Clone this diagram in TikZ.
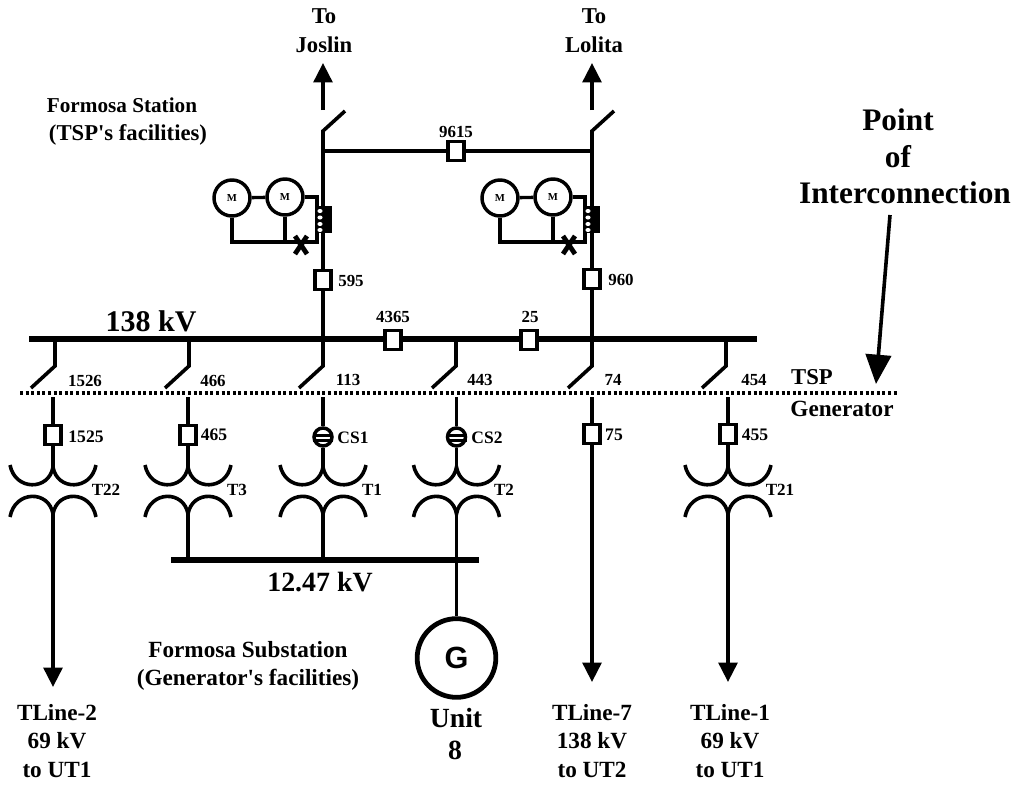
\documentclass[tikz,border=0pt]{standalone}
\usepackage{fontspec}
\setmainfont{Liberation Serif}[Ligatures=TeXOff]
\newfontfamily\gfont{Liberation Sans}
\usetikzlibrary{arrows.meta}
\newcommand{\lbl}[3]{\node[font=\fontsize{#1}{#1}\selectfont\bfseries,inner sep=0pt,align=center] at (#2) {#3};}
\newcommand{\xfmr}[2]{%
 \coordinate (#1u) at (#2,467);\coordinate (#1l) at (#2,514);
 \draw[wire] (#2-43,465) .. controls (#2-38,491) and (#2-4,491) .. (#1u) .. controls (#2+4,491) and (#2+38,491) .. (#2+43,465);
 \draw[wire] (#2-43,517) .. controls (#2-38,490) and (#2-4,490) .. (#1l) .. controls (#2+4,490) and (#2+38,490) .. (#2+43,517);}
\newcommand{\swdown}[2]{% name, x
 \coordinate (#1t) at (#2,339);\coordinate (#1k) at (#2,366);\coordinate (#1e) at (#2-24,388);
 \draw[wire,line join=miter] (#1t) -- (#1k) -- (#1e);}
\newcommand{\motors}[2]{% prefix, x offset
 \begin{scope}[xshift=#2*0.75pt]
 \node[motor] (#1a) at (232,198) {M};
 \node[motor] (#1b) at (285,197) {M};
 \coordinate (#1c) at (317,197);\coordinate (#1d) at (317,242);
 \coordinate (#1e) at (232,242);\coordinate (#1f) at (285,242);
 \draw[thinwire] (#1a) -- (#1b);
 \draw[thinwire] (#1b) -- (#1c) -- (#1d) -- (#1e) -- (#1a);
 \draw[thinwire] (#1b) -- (#1f);
 \fill (316,206) rectangle (332,233);
 \foreach \yy in {211,217.5,224,230}{\fill[white] (320,\yy) ellipse[x radius=2.6,y radius=2];}
 \draw[line width=3.6pt] (295,236) -- (307,254);
 \draw[line width=3.6pt] (307,236) -- (295,254);
 \end{scope}}
\tikzset{
 x=0.75pt,y=-0.75pt,
 wire/.style={line width=2.7pt},
 thinwire/.style={line width=2.5pt},
 bus/.style={line width=4.2pt},
 brk/.style={draw,fill=white,line width=2.6pt,minimum width=12pt,minimum height=14pt,inner sep=0pt},
 cs/.style={draw,circle,fill=white,line width=2.6pt,minimum size=13.5pt,inner sep=0pt},
 motor/.style={draw,circle,fill=white,line width=2.6pt,minimum size=27pt,inner sep=0pt,font=\fontsize{8}{8}\selectfont\bfseries},
 tip/.style={-{Triangle[length=14.5pt,width=14pt]},line width=2.7pt},
}
\begin{document}
\begin{tikzpicture}
\useasboundingbox (0,0) rectangle (1017,785);
% buses
\coordinate (b1) at (29,339);\coordinate (b2) at (757,339);
\coordinate (lv1) at (171,560);\coordinate (lv2) at (479,560);
\coordinate (bd1) at (20,393);\coordinate (bd2) at (898,393);
% upper feeders
\coordinate (jsw) at (323,131);\coordinate (jsw2) at (345,111);
\coordinate (lsw) at (592,131);\coordinate (lsw2) at (614,111);
\coordinate (jtop) at (323,151);\coordinate (ltop) at (592,151);
\coordinate (ja) at (323,110);\coordinate (jb) at (323,63);
\coordinate (la) at (592,110);\coordinate (lb) at (592,63);
\coordinate (jbus) at (323,339);\coordinate (lbus) at (592,339);
\draw[wire,line join=miter] (jbus) -- (jsw) -- (jsw2);
\draw[wire,line join=miter] (lbus) -- (lsw) -- (lsw2);
\draw[tip] (ja) -- (jb);
\draw[tip] (la) -- (lb);
\node[brk] (n9615) at (456,151) {};
\draw[wire] (jtop) -- (n9615) -- (ltop);
\motors{p}{0}
\motors{q}{268}
\node[brk] (n595) at (323,280) {};
\node[brk] (n960) at (592,279) {};
% 138 kV bus
\draw[bus] (b1) -- (b2);
\node[brk] (n4365) at (393,340) {};
\node[brk] (n25) at (529,340) {};
% disconnects
\swdown{a}{55}
\swdown{c}{189}
\swdown{d}{323}
\swdown{e}{456}
\swdown{f}{592}
\swdown{g}{726}
\draw[line width=2.5pt,dash pattern=on 2.2pt off 2pt] (bd1) -- (bd2);
% low side
\xfmr{ta}{53}
\xfmr{tc}{188}
\xfmr{td}{323}
\xfmr{te}{456.5}
\xfmr{tg}{728}
\coordinate (a0) at (53,397);\coordinate (c0) at (188,397);\coordinate (d0) at (323,397);
\coordinate (e0) at (456.5,397);\coordinate (f0) at (592,397);\coordinate (g0) at (728,397);
\node[brk] (n1525) at (53,435) {};
\node[brk] (n465) at (188,435) {};
\node[cs] (cs1) at (323,437) {};
\node[cs] (cs2) at (456.5,437) {};
\node[brk] (n75) at (592,434) {};
\node[brk] (n455) at (728,434) {};
\fill (313,434) rectangle (333,436.5);\fill (313,439) rectangle (333,441.5);
\fill (446.5,434) rectangle (466.5,436.5);\fill (446.5,439) rectangle (466.5,441.5);
\draw[wire] (a0) -- (n1525) -- (tau);
\draw[wire] (c0) -- (n465) -- (tcu);
\draw[wire] (d0) -- (cs1) -- (tdu);
\draw[wire] (e0) -- (cs2) -- (teu);
\draw[wire] (f0) -- (n75);
\draw[wire] (g0) -- (n455) -- (tgu);
\coordinate (aend) at (53,687);\coordinate (fend) at (592,682);\coordinate (gend) at (728,682);
\draw[tip] (tal) -- (aend);
\draw[tip] (n75) -- (fend);
\draw[tip] (tgl) -- (gend);
\coordinate (c1) at (188,560);\coordinate (d1) at (323,560);
\draw[wire] (tcl) -- (c1);
\draw[wire] (tdl) -- (d1);
\draw[bus] (lv1) -- (lv2);
\node[circle,draw,fill=white,line width=3.6pt,minimum size=59pt,inner sep=0pt,font=\gfont\fontsize{23}{23}\selectfont\bfseries] (gen) at (456.5,658) {G};
\draw[wire] (tel) -- (gen);
% point of interconnection arrow
\coordinate (pa) at (890,215);\coordinate (pb) at (876,384);
\draw[-{Triangle[length=22pt,width=19pt]},line width=2.7pt] (pa) -- (pb);
% labels
\lbl{17}{324,16}{To}
\lbl{17}{324,45}{Joslin}
\lbl{17}{594,16}{To}
\lbl{17}{594,45}{Lolita}
\lbl{15.9}{122,105}{Formosa Station}
\lbl{17}{128,135}{(TSP's facilities)}
\lbl{23.5}{898,120}{Point}
\lbl{23.5}{898,157}{of}
\lbl{23.5}{905,193}{Interconnection}
\lbl{22.5}{151,321}{138 kV}
\lbl{20.9}{320,582}{12.47 kV}
\lbl{12.7}{456,132}{9615}
\lbl{12.7}{351,281}{595}
\lbl{12.7}{621,280}{960}
\lbl{12.7}{393,317}{4365}
\lbl{12.7}{530,317}{25}
\lbl{12.7}{85,381}{1526}
\lbl{12.7}{213,381}{466}
\lbl{12.7}{348,380}{113}
\lbl{12.7}{480,380}{443}
\lbl{12.7}{613,380}{74}
\lbl{12.7}{754,380}{454}
\lbl{17}{812,377}{TSP}
\lbl{17.4}{842,409}{Generator}
\lbl{13.2}{86,437}{1525}
\lbl{13.2}{214,435}{465}
\lbl{13.1}{353,438}{CS1}
\lbl{13.1}{487,438}{CS2}
\lbl{13.2}{614,435}{75}
\lbl{13.2}{755,435}{455}
\lbl{12.8}{106,490}{T22}
\lbl{12.8}{237,490}{T3}
\lbl{12.8}{372,490}{T1}
\lbl{12.8}{504,490}{T2}
\lbl{12.8}{780,490}{T21}
\lbl{17.4}{248,650}{Formosa Substation}
\lbl{17.4}{248,680}{(Generator's facilities)}
\lbl{20.8}{456,718}{Unit}
\lbl{20.8}{455,750}{8}
\lbl{17.4}{57,713}{TLine-2}
\lbl{17.4}{57,741}{69 kV}
\lbl{17.4}{57,770}{to UT1}
\lbl{17.4}{592,713}{TLine-7}
\lbl{17.4}{592,741}{138 kV}
\lbl{17.4}{592,770}{to UT2}
\lbl{17.4}{730,713}{TLine-1}
\lbl{17.4}{730,741}{69 kV}
\lbl{17.4}{730,770}{to UT1}
\end{tikzpicture}
\end{document}
